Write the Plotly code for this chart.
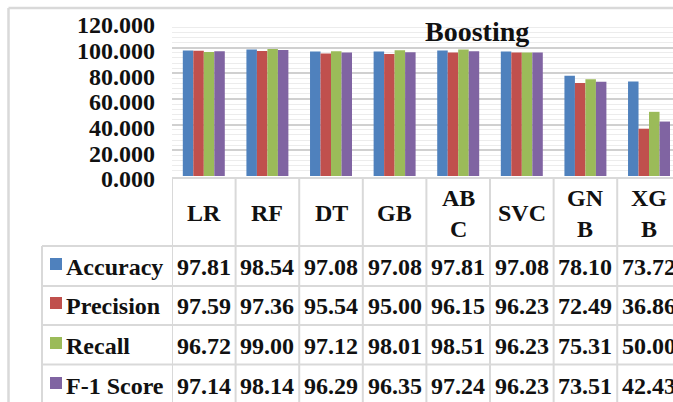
import plotly.graph_objects as go

# Models (categories) and the labels shown in the table header
models = ["LR", "RF", "DT", "GB", "ABC", "SVC", "GNB", "XGB"]
header_labels = ["LR", "RF", "DT", "GB", "AB<br>C", "SVC", "GN<br>B", "XG<br>B"]

# Metric values per model (%)
accuracy = [97.81, 98.54, 97.08, 97.08, 97.81, 97.08, 78.10, 73.72]
precision = [97.59, 97.36, 95.54, 95.00, 96.15, 96.23, 72.49, 36.86]
recall = [96.72, 99.00, 97.12, 98.01, 98.51, 96.23, 75.31, 50.00]
f1_score = [97.14, 98.14, 96.29, 96.35, 97.24, 96.23, 73.51, 42.43]

metric_names = ["Accuracy", "Precision", "Recall", "F-1 Score"]
metric_values = [accuracy, precision, recall, f1_score]
metric_colors = ["#4f81bd", "#c0504d", "#9bbb59", "#8064a2"]

y_ticks = [0, 20, 40, 60, 80, 100, 120]

W, H = 673, 402
FONT = "Liberation Serif"
GRID = "#d9d9d9"
TXT = "#111111"


def px(x):
    return x / W


def py(y):
    return 1 - y / H


fig = go.Figure()
for name, vals, col in zip(metric_names, metric_values, metric_colors):
    fig.add_trace(go.Bar(x=models, y=vals, name=name, marker=dict(color=col, line=dict(width=0))))

shapes = []
annotations = []

# outer chart frame
shapes.append(dict(type="line", xref="paper", yref="paper", x0=px(8.5), x1=px(8.5), y0=py(8), y1=py(H + 2),
                   line=dict(color=GRID, width=2.5)))
shapes.append(dict(type="line", xref="paper", yref="paper", x0=px(8.5), x1=1, y0=py(8), y1=py(8),
                   line=dict(color=GRID, width=2.5)))

# data table grid
row_edges = [246, 286, 325, 364.5]
header_top = 178
shapes.append(dict(type="line", xref="paper", yref="paper", x0=px(172), x1=1, y0=py(header_top), y1=py(header_top),
                   line=dict(color=GRID, width=2)))
for ry in row_edges:
    shapes.append(dict(type="line", xref="paper", yref="paper", x0=px(42), x1=1, y0=py(ry), y1=py(ry),
                       line=dict(color=GRID, width=2)))
shapes.append(dict(type="line", xref="paper", yref="paper", x0=px(42), x1=px(42), y0=py(246), y1=py(H + 2),
                   line=dict(color=GRID, width=2)))
for i in range(len(models) + 1):
    shapes.append(dict(type="line", xref="x", yref="paper", x0=i - 0.5, x1=i - 0.5, y0=py(header_top), y1=py(H + 2),
                       line=dict(color=GRID, width=2)))

# header row
for m, lab in zip(models, header_labels):
    annotations.append(dict(xref="x", yref="paper", x=m, y=py(213), text=lab, showarrow=False,
                            xanchor="center", yanchor="middle", align="center",
                            font=dict(family=FONT, size=24, color=TXT, weight="bold")))

# metric rows
row_centers = [266, 305, 345, 385]
for name, vals, col, yc in zip(metric_names, metric_values, metric_colors, row_centers):
    shapes.append(dict(type="rect", xref="paper", yref="paper", x0=px(50), x1=px(62), y0=py(yc - 8), y1=py(yc + 4),
                       fillcolor=col, line=dict(width=0)))
    annotations.append(dict(xref="paper", yref="paper", x=px(64), y=py(yc + 1), text=name, showarrow=False,
                            xanchor="left", yanchor="middle",
                            font=dict(family=FONT, size=24, color=TXT, weight="bold")))
    for m, v in zip(models, vals):
        annotations.append(dict(xref="x", yref="paper", x=m, y=py(yc + 1), text=f"{v:.2f}", showarrow=False,
                                xanchor="center", yanchor="middle",
                                font=dict(family=FONT, size=24, color=TXT, weight="bold")))

# chart title
annotations.append(dict(xref="paper", yref="paper", x=px(477), y=py(31), text="Boosting", showarrow=False,
                        xanchor="center", yanchor="middle",
                        font=dict(family=FONT, size=28, color=TXT, weight="bold")))

fig.update_layout(
    width=W, height=H,
    margin=dict(l=0, r=0, t=0, b=0),
    paper_bgcolor="white", plot_bgcolor="white",
    barmode="group", bargap=0.34, bargroupgap=0,
    showlegend=False,
    shapes=shapes, annotations=annotations,
    xaxis=dict(domain=[px(172), 1], range=[-0.5, 7.377], showticklabels=False, showgrid=False,
               zeroline=False, showline=False, ticks="", automargin=False),
    yaxis=dict(domain=[py(176), py(22)], range=[0, 120], tickvals=y_ticks, tickformat=".3f",
               showgrid=True, gridcolor="#d0d0d0", gridwidth=1.5, zeroline=False, showline=False,
               ticks="", ticklabelstandoff=16, ticklabelshift=3, automargin=False,
               tickfont=dict(family=FONT, size=24, color=TXT, weight="bold"),
               minor=dict(dtick=4, showgrid=True, gridcolor="#ececec", gridwidth=1)),
)

fig.write_html("out.html")
